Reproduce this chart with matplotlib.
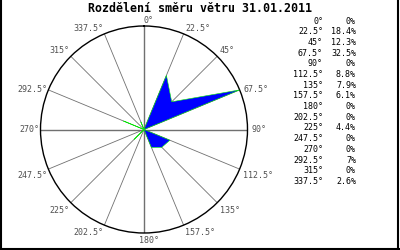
import numpy as np
import matplotlib
matplotlib.use('Agg')
import matplotlib.pyplot as plt
from matplotlib.lines import Line2D

title = 'Rozdělení směru větru 31.01.2011'
directions = [0, 22.5, 45, 67.5, 90, 112.5, 135, 157.5,
              180, 202.5, 225, 247.5, 270, 292.5, 315, 337.5]
percents = [0, 18.4, 12.3, 32.5, 0, 8.8, 7.9, 6.1,
            0, 0, 4.4, 0, 0, 7, 0, 2.6]
dir_labels = ['0°', '22.5°', '45°', '67.5°', '90°', '112.5°', '135°', '157.5°',
              '180°', '202.5°', '225°', '247.5°', '270°', '292.5°', '315°', '337.5°']
pct_labels = ['0%', '18.4%', '12.3%', '32.5%', '0%', '8.8%', '7.9%', '6.1%',
              '0%', '0%', '4.4%', '0%', '0%', '7%', '0%', '2.6%']

plt.rcParams['font.family'] = ['DejaVu Sans Mono']

fig = plt.figure(figsize=(4, 2.5), dpi=100)
ax = fig.add_axes([0.10125, 0.068, 0.5175, 0.828], projection='polar')
ax.set_theta_zero_location('N')
ax.set_theta_direction(-1)
rmax = max(percents)
ax.set_ylim(0, rmax)
ax.grid(False)
ax.set_xticks([])
ax.set_yticks([])
ax.spines['polar'].set_color('black')
ax.spines['polar'].set_linewidth(1.0)

theta = np.radians(directions)

# radial guide lines
for d, t in zip(directions, theta):
    if d % 90 == 0:
        ax.plot([t, t], [0, rmax], color='#707070', lw=1.0, zorder=1)
    else:
        ax.plot([t, t], [0, rmax], color='#707070', lw=0.6, zorder=1)

# wind rose polygon
tt = np.append(theta, theta[0])
rr = np.append(percents, percents[0])
ax.fill(tt, rr, facecolor='#0000ff', edgecolor='#00ee00', lw=0.4, zorder=3)

# angle labels around the circle
for d, t, lab in zip(directions, theta, dir_labels):
    s, c = np.sin(t), np.cos(t)
    if abs(s) < 0.01:
        ha = 'left'
        dx = -1 if c > 0 else -5
    elif s > 0:
        ha = 'left'
        dx = 4 * s
    else:
        ha = 'right'
        dx = 1.5 * s
    if c > 0.5:
        va, dy = 'bottom', 1
    elif c > -0.1:
        va, dy = 'center', 0
    else:
        va, dy = 'top', -3 if c < -0.5 else -1.5
    ax.annotate(lab, xy=(t, rmax), xytext=(dx, dy), textcoords='offset pixels',
                ha=ha, va=va, fontsize=6, color='#505050', annotation_clip=False)

# table on the right
for i, (a, p) in enumerate(zip(dir_labels, pct_labels)):
    y = 1 - (21 + 10.7 * i) / 250
    fig.text(323 / 400, y, a, ha='right', va='center', fontsize=6, color='black')
    fig.text(356 / 400, y, p, ha='right', va='center', fontsize=6, color='black')

fig.text(0.5, 1 - 9 / 250, title, ha='center', va='center', fontsize=8.4,
         fontweight='bold', color='black')

# frame
for xs, ys in [([0.002, 0.002], [0, 1]), ([0.995, 0.995], [0, 1]), ([0, 1], [0.006, 0.006])]:
    fig.add_artist(Line2D(xs, ys, color='black', lw=1.5, transform=fig.transFigure))

fig.savefig('out.png', dpi=100)
